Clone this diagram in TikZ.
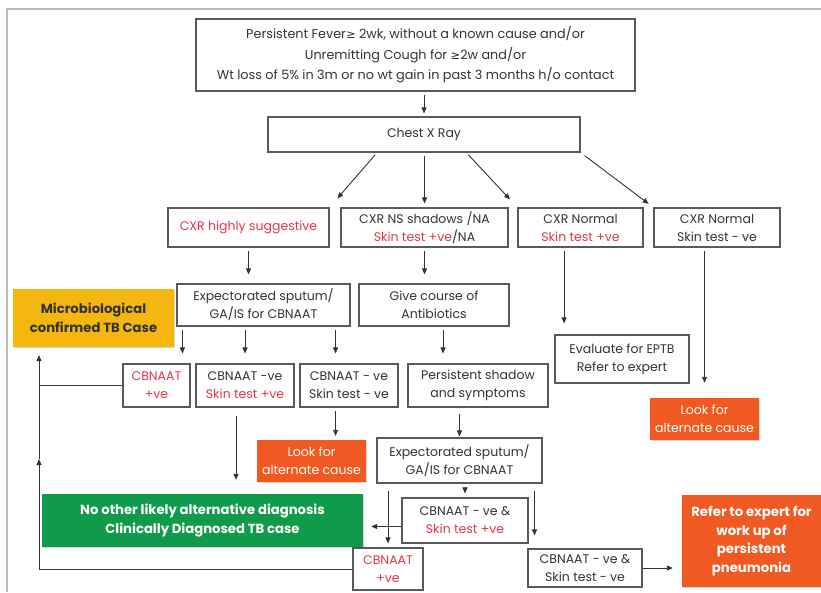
\documentclass[tikz,border=0pt]{standalone}
\usepackage{fontspec}
\setmainfont{Poppins}
\newfontfamily\dv{DejaVu Sans}
\usetikzlibrary{arrows.meta,calc,shadows}
\definecolor{txt}{HTML}{333333}
\definecolor{redt}{HTML}{E8344A}
\definecolor{gold}{HTML}{F4B70F}
\definecolor{orng}{HTML}{F05A22}
\definecolor{grn}{HTML}{0F9B4A}
\definecolor{bord}{HTML}{5A5A5A}
\definecolor{frame}{HTML}{BBBBBB}
\newcommand{\rt}[1]{{\color{redt}#1}}
\newcommand{\gesym}{{\dv\fontsize{11.5}{17}\selectfont ≥}}
\begin{document}
\begin{tikzpicture}[x=1pt,y=-1pt,
  box/.style={draw=bord, line width=1.1pt, fill=white, align=center, inner sep=0pt,
    text=txt, font=\fontsize{12.5}{18}\selectfont,
    drop shadow={shadow xshift=1.3pt, shadow yshift=-1.3pt, opacity=0.35, fill=gray}},
  cbox/.style={draw=none, align=center, inner sep=0pt, text=white,
    font=\fontsize{12.5}{18}\selectfont,
    drop shadow={shadow xshift=1.3pt, shadow yshift=-1.3pt, opacity=0.3, fill=gray}},
  boldtxt/.style={font=\fontsize{13.2}{18.5}\selectfont\bfseries},
  arr/.style={-{Triangle[length=6pt,width=5pt]}, draw=txt, line width=0.9pt,
    shorten <=3pt, shorten >=6pt},
  ln/.style={draw=txt, line width=0.9pt}]
\useasboundingbox (0,0) rectangle (821,592);
\fill[white] (0,0) rectangle (821,592);
\draw[frame, line width=1.5pt] (7,592) -- (7,9) -- (821,9);

% nodes
\node[box, minimum width=439pt, minimum height=72pt, font=\fontsize{12.8}{20.5}\selectfont] (top) at (415.5,55)
  {Persistent Fever\gesym{} 2wk, without a known cause and/or\\Unremitting Cough for \gesym2w and/or\\Wt loss of 5\% in 3m or no wt gain in past 3 months h/o contact};
\node[box, minimum width=312pt, minimum height=35pt] (chest) at (424,134.5) {Chest X Ray};
\node[box, minimum width=161pt, minimum height=39pt] (cxr1) at (248.5,227.5) {\rt{CXR highly suggestive}};
\node[box, minimum width=167pt, minimum height=39pt] (cxr2) at (424.5,227.5) {CXR NS shadows /NA\\\rt{Skin test +ve}/NA};
\node[box, minimum width=125pt, minimum height=39pt] (cxr3) at (580.5,227.5) {CXR Normal\\\rt{Skin test +ve}};
\node[box, minimum width=126pt, minimum height=39pt] (cxr4) at (717,227.5) {CXR Normal\\Skin test - ve};
\node[cbox, fill=gold, text=txt, boldtxt, minimum width=161pt, minimum height=58pt] (micro) at (93.5,318) {Microbiological\\confirmed TB Case};
\node[box, minimum width=173pt, minimum height=42pt] (exp1) at (263.5,305) {Expectorated sputum/\\GA/IS for CBNAAT};
\node[box, minimum width=150pt, minimum height=42pt] (give) at (434,305) {Give course of\\Antibiotics};
\node[box, minimum width=134pt, minimum height=48pt] (eptb) at (622,359) {Evaluate for EPTB\\Refer to expert};
\node[box, minimum width=67pt, minimum height=43pt] (cbp1) at (156.5,385.5) {\rt{CBNAAT}\\\rt{+ve}};
\node[box, minimum width=98pt, minimum height=43pt] (cbn1) at (245,385.5) {CBNAAT -ve\\\rt{Skin test +ve}};
\node[box, minimum width=98pt, minimum height=43pt] (cbn2) at (349,385.5) {CBNAAT - ve\\Skin test - ve};
\node[box, minimum width=140pt, minimum height=43pt] (pers) at (478,385.5) {Persistent shadow\\and symptoms};
\node[cbox, fill=orng, minimum width=109pt, minimum height=42pt] (alt2) at (704.5,419) {Look for\\alternate cause};
\node[cbox, fill=orng, minimum width=109pt, minimum height=42pt] (alt1) at (311.5,461) {Look for\\alternate cause};
\node[box, minimum width=165pt, minimum height=45pt] (exp2) at (459.5,460.5) {Expectorated sputum/\\GA/IS for CBNAAT};
\node[cbox, fill=grn, boldtxt, minimum width=321pt, minimum height=53pt] (green) at (202.5,520.5) {No other likely alternative diagnosis\\Clinically Diagnosed TB case};
\node[box, minimum width=126pt, minimum height=45pt] (cbn3) at (465,520.5) {CBNAAT - ve \&\\\rt{Skin test +ve}};
\node[box, minimum width=70pt, minimum height=42pt] (cbp2) at (388,569) {\rt{CBNAAT}\\\rt{+ve}};
\node[box, minimum width=114pt, minimum height=38pt] (cbn4) at (585,568) {CBNAAT - ve \&\\Skin test - ve};
\node[cbox, fill=orng, boldtxt, minimum width=139pt, minimum height=92pt] (refer) at (751.5,541) {Refer to expert for\\work up of\\persistent\\pneumonia};

% connectors
\draw[arr, shorten >=3pt] (top.south -| chest.north) -- (chest.north);
\draw[arr, shorten >=12pt] ($(chest.south west)!0.35!(chest.south east)$) -- (cxr1.north east);
\draw[arr, shorten >=4pt] (chest.south -| cxr2.north) -- (cxr2.north);
\draw[arr, shorten >=11pt] ($(chest.south west)!0.635!(chest.south east)$) -- (cxr3.north west);
\draw[arr, shorten >=6pt, shorten <=5pt] (chest.south east) -- (cxr4.north west);
\draw[arr, shorten >=9pt] (cxr1.south) -- (cxr1.south |- exp1.north);
\draw[arr, shorten >=9pt] (cxr2.south) -- (cxr2.south |- give.north);
\coordinate (c3) at ($(cxr3.south west)!0.37!(cxr3.south east)$);
\draw[arr, shorten >=11pt] (c3) -- (c3 |- eptb.north);
\draw[arr, shorten >=15pt] (cxr4.south -| alt2.north) -- (alt2.north);
\coordinate (e1) at ($(exp1.south west)+(6,0)$);
\draw[arr, shorten >=10pt] (e1) -- (e1 |- cbp1.north);
\draw[arr, shorten >=10pt] (cbn1.north |- exp1.south) -- (cbn1.north);
\coordinate (e3) at ($(exp1.south east)+(-15,0)$);
\draw[arr, shorten >=10pt] (e3) -- (e3 |- cbn2.north);
\coordinate (g1) at ($(give.south)+(9,0)$);
\draw[arr, shorten >=10pt] (g1) -- (g1 |- pers.north);
\draw[arr, shorten >=4pt] (e3 |- cbn2.south) -- (e3 |- alt1.north);
\coordinate (n1) at ($(cbn1.south)+(-9,0)$);
\draw[arr, shorten <=8pt, shorten >=14pt] (n1) -- (n1 |- green.north);
\draw[arr, shorten <=6pt, shorten >=1pt] (exp2.north |- pers.south) -- (exp2.north);
\draw[arr, shorten >=4pt] (cbn3.north |- exp2.south) -- (cbn3.north);
\draw[arr, shorten <=7pt, shorten >=4pt] (cbp2.north |- exp2.south) -- (cbp2.north);
\coordinate (n4) at ($(cbn4.north west)+(7,0)$);
\draw[arr, shorten <=7pt, shorten >=13pt] (n4 |- exp2.south) -- (n4);
\coordinate (n3) at ($(cbn3.west)+(0,6)$);
\draw[arr, shorten <=0pt, shorten >=8pt] (n3) -- (n3 -| green.east);
\draw[arr, shorten <=0pt, shorten >=9pt] (cbn4.east) -- (cbn4.east -| refer.west);
\coordinate (L) at (39,459);
\draw[ln] (cbp1.west) -- (cbp1.west -| L);
\draw[arr, shorten <=0pt, shorten >=0pt] (cbp2.west) -| (L);
\draw[arr, shorten <=0pt, shorten >=8pt] (L) -- (L |- micro.south);
\end{tikzpicture}
\end{document}
